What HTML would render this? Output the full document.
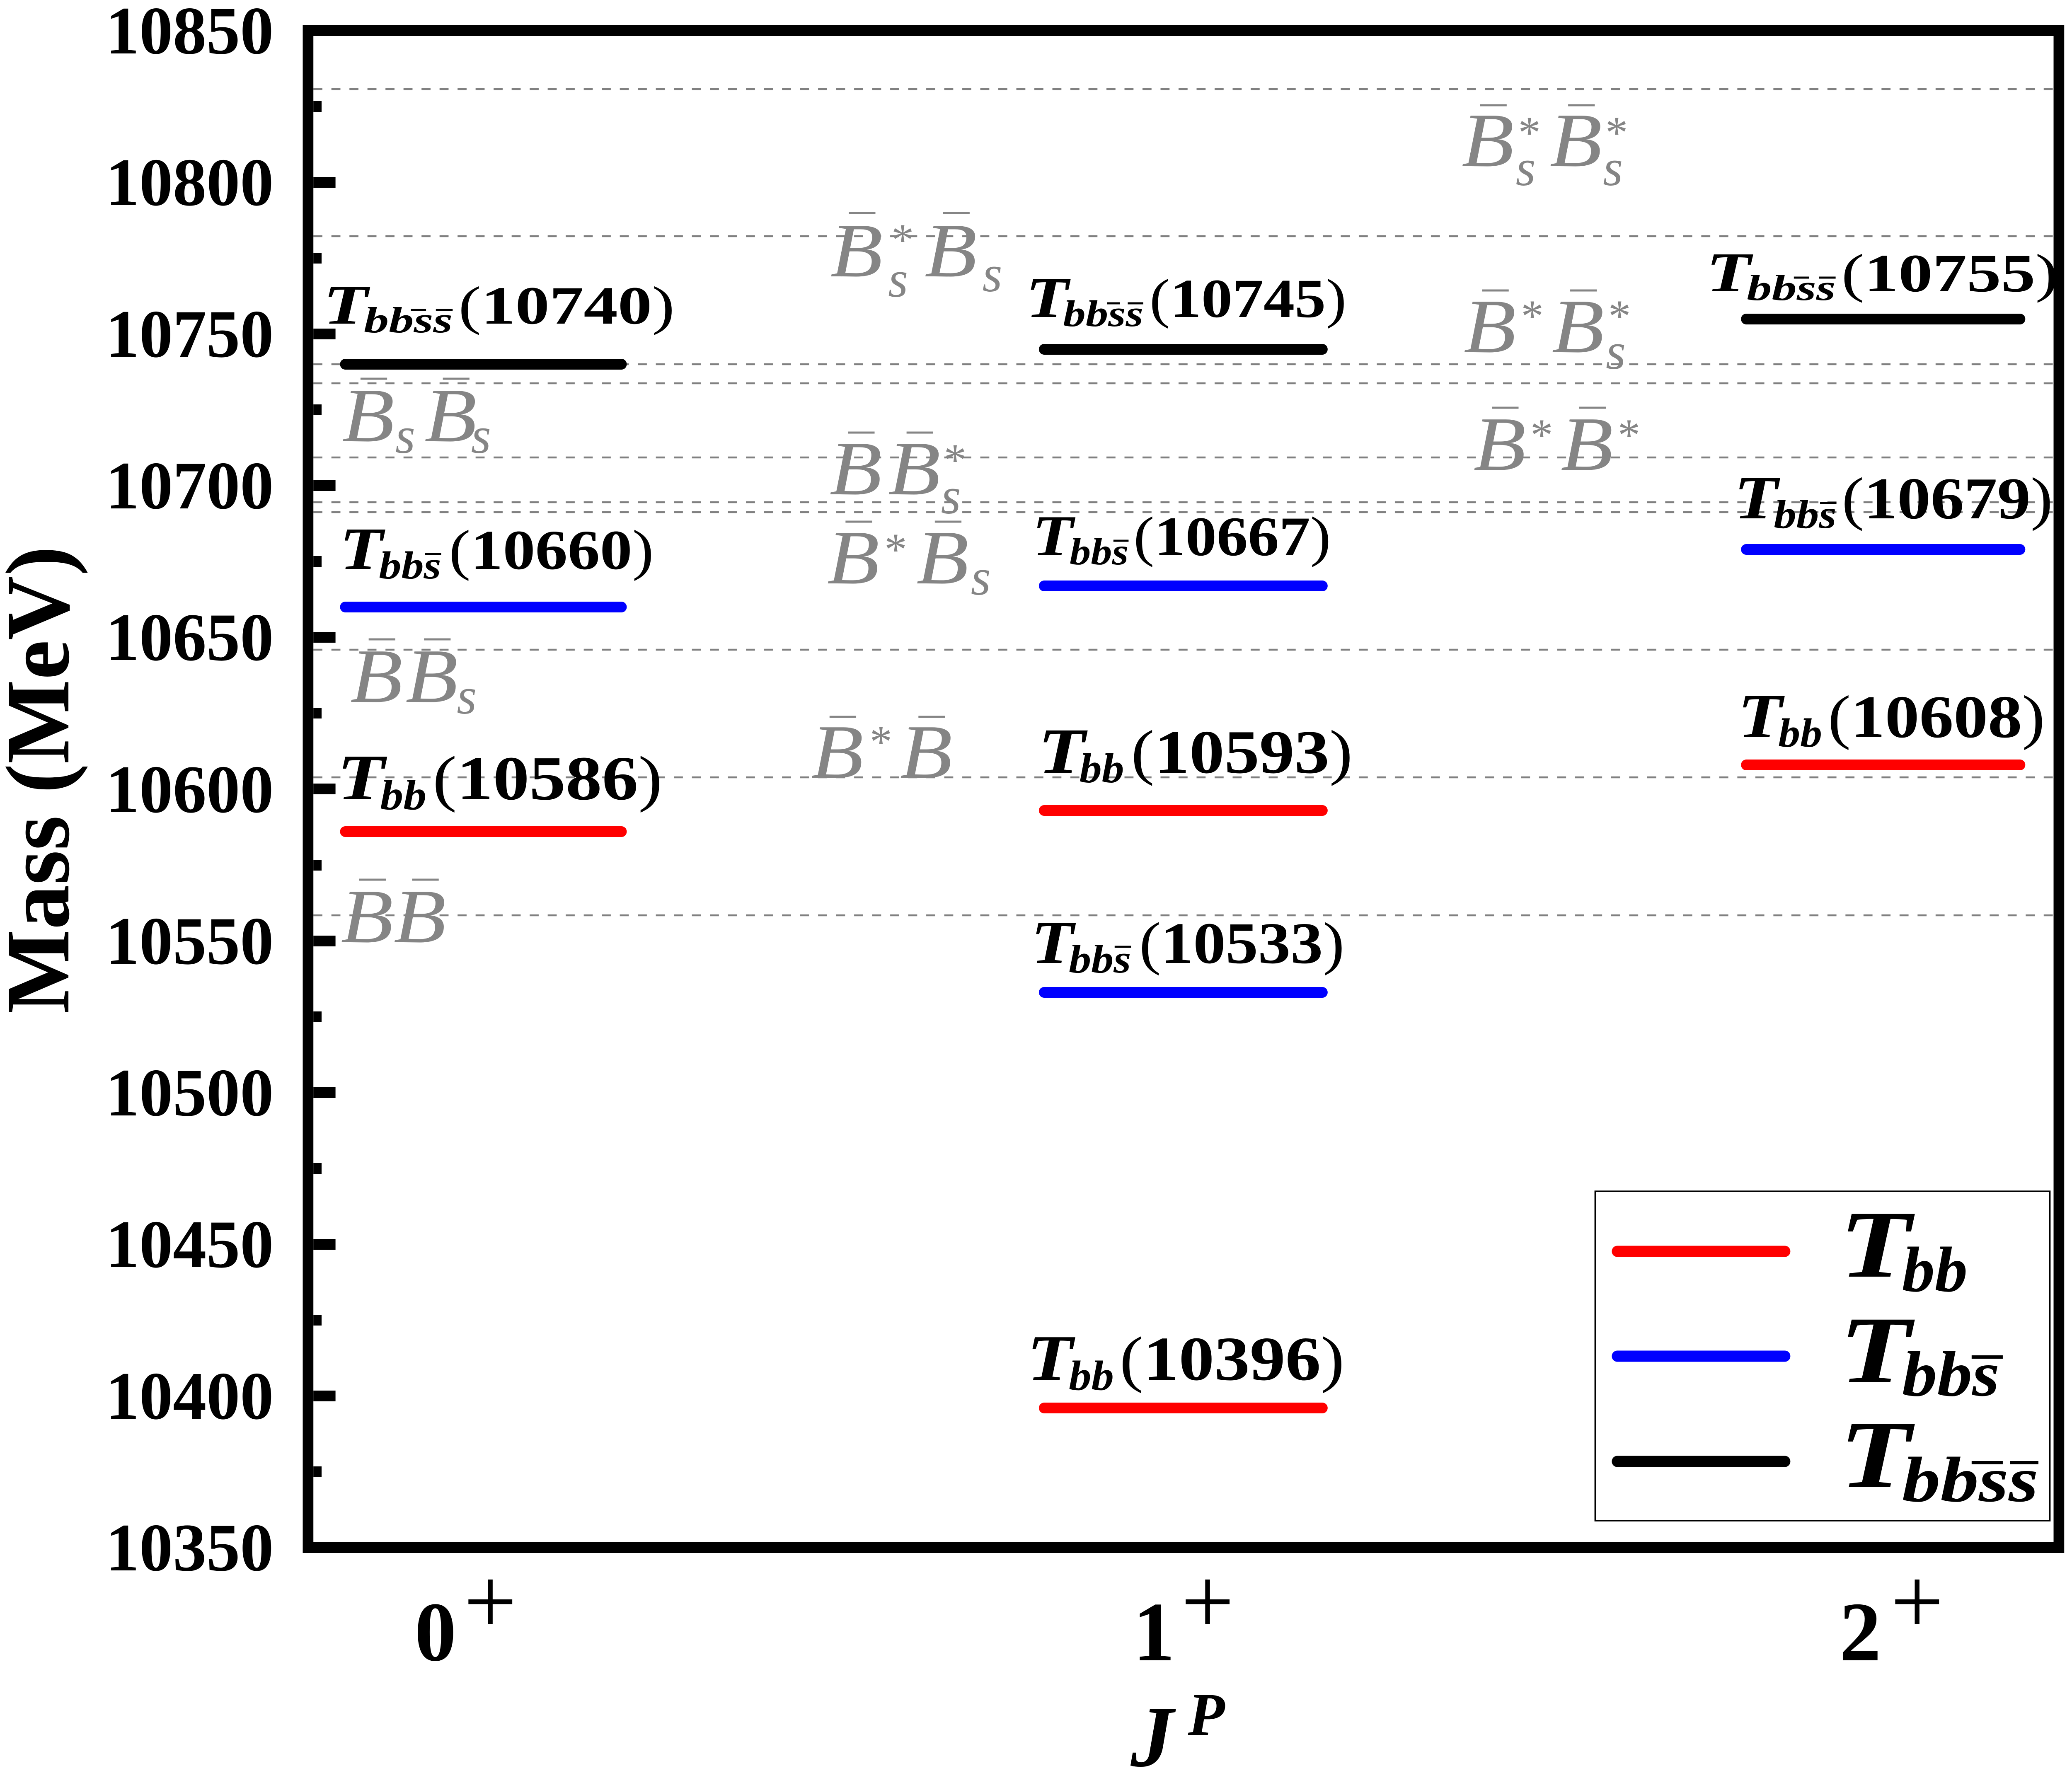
<!DOCTYPE html>
<html>
<head>
<meta charset="utf-8">
<style>
html,body{margin:0;padding:0;background:#fff;width:100%;height:100%;overflow:hidden;}
svg{display:block;width:100vw;height:100vh;}
text{font-family:"Liberation Serif","DejaVu Serif",serif;}
.bi{font-weight:bold;font-style:italic;}
.gr{fill:#858585;font-style:italic;}
.ga{fill:#858585;}
</style>
</head>
<body>
<svg viewBox="0 0 5058 4291" preserveAspectRatio="none" xmlns="http://www.w3.org/2000/svg">
<rect x="0" y="0" width="5058" height="4291" fill="#fff"/>

<!-- dashed threshold lines -->
<g stroke="#808080" stroke-width="4.5" stroke-dasharray="22 22">
<line x1="765" y1="215" x2="5013" y2="215"/>
<line x1="765" y1="570" x2="5013" y2="570"/>
<line x1="765" y1="879" x2="5013" y2="879"/>
<line x1="765" y1="925" x2="5013" y2="925"/>
<line x1="765" y1="1104" x2="5013" y2="1104"/>
<line x1="765" y1="1212" x2="5013" y2="1212"/>
<line x1="765" y1="1236" x2="5013" y2="1236"/>
<line x1="765" y1="1568" x2="5013" y2="1568"/>
<line x1="765" y1="1876" x2="5013" y2="1876"/>
<line x1="765" y1="2209" x2="5013" y2="2209"/>
</g>

<!-- gray threshold labels -->
<g font-size="186">
<text class="gr" x="835" y="1065" textLength="128" lengthAdjust="spacingAndGlyphs">B</text>
<text class="gr" x="965" y="1093" font-size="125">s</text>
<text class="gr" x="1036" y="1065" textLength="128" lengthAdjust="spacingAndGlyphs">B</text>
<text class="gr" x="1150" y="1093" font-size="125">s</text>

<text class="gr" x="855" y="1694" textLength="128" lengthAdjust="spacingAndGlyphs">B</text>
<text class="gr" x="990" y="1694" textLength="128" lengthAdjust="spacingAndGlyphs">B</text>
<text class="gr" x="1115" y="1722" font-size="125">s</text>

<text class="gr" x="832" y="2274" textLength="128" lengthAdjust="spacingAndGlyphs">B</text>
<text class="gr" x="961" y="2274" textLength="128" lengthAdjust="spacingAndGlyphs">B</text>

<text class="gr" x="2027" y="667" textLength="128" lengthAdjust="spacingAndGlyphs">B</text>
<text class="ga" x="2176" y="616" font-size="110">*</text>
<text class="gr" x="2168" y="716" font-size="125">s</text>
<text class="gr" x="2257" y="667" textLength="128" lengthAdjust="spacingAndGlyphs">B</text>
<text class="gr" x="2398" y="703" font-size="125">s</text>

<text class="gr" x="2025" y="1193" textLength="128" lengthAdjust="spacingAndGlyphs">B</text>
<text class="gr" x="2168" y="1193" textLength="128" lengthAdjust="spacingAndGlyphs">B</text>
<text class="ga" x="2304" y="1147" font-size="110">*</text>
<text class="gr" x="2297" y="1239" font-size="125">s</text>

<text class="gr" x="2019" y="1408" textLength="128" lengthAdjust="spacingAndGlyphs">B</text>
<text class="ga" x="2159" y="1363" font-size="110">*</text>
<text class="gr" x="2237" y="1408" textLength="128" lengthAdjust="spacingAndGlyphs">B</text>
<text class="gr" x="2370" y="1435" font-size="125">s</text>

<text class="gr" x="1980" y="1877" textLength="128" lengthAdjust="spacingAndGlyphs">B</text>
<text class="ga" x="2123" y="1827" font-size="110">*</text>
<text class="gr" x="2197" y="1877" textLength="128" lengthAdjust="spacingAndGlyphs">B</text>

<text class="gr" x="3568" y="401" textLength="128" lengthAdjust="spacingAndGlyphs">B</text>
<text class="ga" x="3706" y="357" font-size="110">*</text>
<text class="gr" x="3700" y="447" font-size="125">s</text>
<text class="gr" x="3783" y="401" textLength="128" lengthAdjust="spacingAndGlyphs">B</text>
<text class="ga" x="3919" y="357" font-size="110">*</text>
<text class="gr" x="3913" y="447" font-size="125">s</text>

<text class="gr" x="3573" y="850" textLength="128" lengthAdjust="spacingAndGlyphs">B</text>
<text class="ga" x="3713" y="800" font-size="110">*</text>
<text class="gr" x="3788" y="850" textLength="128" lengthAdjust="spacingAndGlyphs">B</text>
<text class="ga" x="3926" y="800" font-size="110">*</text>
<text class="gr" x="3920" y="890" font-size="125">s</text>

<text class="gr" x="3597" y="1134" textLength="128" lengthAdjust="spacingAndGlyphs">B</text>
<text class="ga" x="3736" y="1087" font-size="110">*</text>
<text class="gr" x="3810" y="1134" textLength="128" lengthAdjust="spacingAndGlyphs">B</text>
<text class="ga" x="3949" y="1087" font-size="110">*</text>
</g>
<g stroke="#858585" stroke-width="5">
<line x1="880" y1="914" x2="945" y2="914"/><line x1="1081" y1="914" x2="1146" y2="914"/>
<line x1="900" y1="1543" x2="965" y2="1543"/><line x1="1035" y1="1543" x2="1100" y2="1543"/>
<line x1="877" y1="2123" x2="942" y2="2123"/><line x1="1006" y1="2123" x2="1071" y2="2123"/>
<line x1="2072" y1="514" x2="2137" y2="514"/><line x1="2302" y1="514" x2="2367" y2="514"/>
<line x1="2070" y1="1044" x2="2135" y2="1044"/><line x1="2213" y1="1044" x2="2278" y2="1044"/>
<line x1="2064" y1="1259" x2="2129" y2="1259"/><line x1="2282" y1="1259" x2="2347" y2="1259"/>
<line x1="2025" y1="1730" x2="2090" y2="1730"/><line x1="2242" y1="1730" x2="2307" y2="1730"/>
<line x1="3613" y1="254" x2="3678" y2="254"/><line x1="3828" y1="254" x2="3893" y2="254"/>
<line x1="3618" y1="701" x2="3683" y2="701"/><line x1="3833" y1="701" x2="3898" y2="701"/>
<line x1="3642" y1="984" x2="3707" y2="984"/><line x1="3855" y1="984" x2="3920" y2="984"/>
</g>

<!-- energy level bars -->
<g stroke-width="26" stroke-linecap="round">
<line x1="843" y1="879" x2="1517" y2="879" stroke="#000"/>
<line x1="843" y1="1465" x2="1517" y2="1465" stroke="#0000ff"/>
<line x1="843" y1="2007" x2="1517" y2="2007" stroke="#ff0000"/>
<line x1="2549" y1="843" x2="3228" y2="843" stroke="#000"/>
<line x1="2549" y1="1414" x2="3228" y2="1414" stroke="#0000ff"/>
<line x1="2549" y1="1956" x2="3228" y2="1956" stroke="#ff0000"/>
<line x1="2549" y1="2395" x2="3228" y2="2395" stroke="#0000ff"/>
<line x1="2549" y1="3398" x2="3228" y2="3398" stroke="#ff0000"/>
<line x1="4263" y1="770" x2="4931" y2="770" stroke="#000"/>
<line x1="4263" y1="1326" x2="4931" y2="1326" stroke="#0000ff"/>
<line x1="4263" y1="1846" x2="4931" y2="1846" stroke="#ff0000"/>
</g>

<!-- black state labels -->
<g fill="#000">
<text class="bi" x="789" y="781" font-size="136" textLength="109" lengthAdjust="spacingAndGlyphs">T</text>
<text class="bi" x="888" y="802" font-size="88" textLength="217" lengthAdjust="spacingAndGlyphs">bbss</text>
<text x="1119" y="781" font-size="130" textLength="528" lengthAdjust="spacingAndGlyphs">(<tspan font-weight="bold">10740</tspan>)</text>

<text class="bi" x="829" y="1373" font-size="145" textLength="106" lengthAdjust="spacingAndGlyphs">T</text>
<text class="bi" x="925" y="1396" font-size="94" textLength="152" lengthAdjust="spacingAndGlyphs">bbs</text>
<text x="1096" y="1373" font-size="136" textLength="500" lengthAdjust="spacingAndGlyphs">(<tspan font-weight="bold">10660</tspan>)</text>

<text class="bi" x="823" y="1929" font-size="157" textLength="116" lengthAdjust="spacingAndGlyphs">T</text>
<text class="bi" x="928" y="1953" font-size="102" textLength="113" lengthAdjust="spacingAndGlyphs">bb</text>
<text x="1056" y="1929" font-size="151" textLength="561" lengthAdjust="spacingAndGlyphs">(<tspan font-weight="bold">10586</tspan>)</text>

<text class="bi" x="2504" y="765" font-size="139" textLength="104" lengthAdjust="spacingAndGlyphs">T</text>
<text class="bi" x="2595" y="787" font-size="90" textLength="196" lengthAdjust="spacingAndGlyphs">bbss</text>
<text x="2806" y="765" font-size="133" textLength="481" lengthAdjust="spacingAndGlyphs">(<tspan font-weight="bold">10745</tspan>)</text>

<text class="bi" x="2520" y="1340" font-size="140" textLength="100" lengthAdjust="spacingAndGlyphs">T</text>
<text class="bi" x="2611" y="1362" font-size="91" textLength="144" lengthAdjust="spacingAndGlyphs">bbs</text>
<text x="2767" y="1340" font-size="135" textLength="482" lengthAdjust="spacingAndGlyphs">(<tspan font-weight="bold">10667</tspan>)</text>

<text class="bi" x="2534" y="1865" font-size="156" textLength="115" lengthAdjust="spacingAndGlyphs">T</text>
<text class="bi" x="2635" y="1888" font-size="101" textLength="109" lengthAdjust="spacingAndGlyphs">bb</text>
<text x="2761" y="1865" font-size="149" textLength="541" lengthAdjust="spacingAndGlyphs">(<tspan font-weight="bold">10593</tspan>)</text>

<text class="bi" x="2517" y="2324" font-size="148" textLength="104" lengthAdjust="spacingAndGlyphs">T</text>
<text class="bi" x="2609" y="2347" font-size="96" textLength="152" lengthAdjust="spacingAndGlyphs">bbs</text>
<text x="2781" y="2324" font-size="142" textLength="501" lengthAdjust="spacingAndGlyphs">(<tspan font-weight="bold">10533</tspan>)</text>

<text class="bi" x="2507" y="3330" font-size="157" textLength="112" lengthAdjust="spacingAndGlyphs">T</text>
<text class="bi" x="2609" y="3354" font-size="102" textLength="110" lengthAdjust="spacingAndGlyphs">bb</text>
<text x="2733" y="3330" font-size="151" textLength="549" lengthAdjust="spacingAndGlyphs">(<tspan font-weight="bold">10396</tspan>)</text>

<text class="bi" x="4165" y="703" font-size="136" textLength="109" lengthAdjust="spacingAndGlyphs">T</text>
<text class="bi" x="4264" y="724" font-size="88" textLength="217" lengthAdjust="spacingAndGlyphs">bbss</text>
<text x="4495" y="703" font-size="130" textLength="529" lengthAdjust="spacingAndGlyphs">(<tspan font-weight="bold">10755</tspan>)</text>

<text class="bi" x="4233" y="1251" font-size="149" textLength="107" lengthAdjust="spacingAndGlyphs">T</text>
<text class="bi" x="4330" y="1274" font-size="97" textLength="153" lengthAdjust="spacingAndGlyphs">bbs</text>
<text x="4496" y="1251" font-size="143" textLength="515" lengthAdjust="spacingAndGlyphs">(<tspan font-weight="bold">10679</tspan>)</text>

<text class="bi" x="4242" y="1779" font-size="152" textLength="109" lengthAdjust="spacingAndGlyphs">T</text>
<text class="bi" x="4341" y="1802" font-size="99" textLength="107" lengthAdjust="spacingAndGlyphs">bb</text>
<text x="4462" y="1779" font-size="146" textLength="530" lengthAdjust="spacingAndGlyphs">(<tspan font-weight="bold">10608</tspan>)</text>
</g>
<g stroke="#000" stroke-width="5">
<line x1="1003" y1="748" x2="1040" y2="748"/><line x1="1064" y1="748" x2="1105" y2="748"/>
<line x1="1037" y1="1337" x2="1077" y2="1337"/>
<line x1="2702" y1="732" x2="2734" y2="732"/><line x1="2753" y1="732" x2="2791" y2="732"/>
<line x1="2718" y1="1305" x2="2755" y2="1305"/>
<line x1="2721" y1="2285" x2="2761" y2="2285"/>
<line x1="4379" y1="670" x2="4416" y2="670"/><line x1="4440" y1="670" x2="4481" y2="670"/>
<line x1="4443" y1="1214" x2="4483" y2="1214"/>
</g>

<!-- ticks -->
<g fill="#000">
<rect x="765" y="427" width="54" height="26"/>
<rect x="765" y="793" width="54" height="26"/>
<rect x="765" y="1159" width="54" height="26"/>
<rect x="765" y="1525" width="54" height="26"/>
<rect x="765" y="1891" width="54" height="26"/>
<rect x="765" y="2258" width="54" height="26"/>
<rect x="765" y="2624" width="54" height="26"/>
<rect x="765" y="2990" width="54" height="26"/>
<rect x="765" y="3356" width="54" height="26"/>
<rect x="765" y="244" width="20" height="26"/>
<rect x="765" y="610" width="20" height="26"/>
<rect x="765" y="976" width="20" height="26"/>
<rect x="765" y="1342" width="20" height="26"/>
<rect x="765" y="1708" width="20" height="26"/>
<rect x="765" y="2075" width="20" height="26"/>
<rect x="765" y="2441" width="20" height="26"/>
<rect x="765" y="2807" width="20" height="26"/>
<rect x="765" y="3173" width="20" height="26"/>
<rect x="765" y="3539" width="20" height="26"/>
</g>

<!-- frame -->
<rect x="752" y="74" width="4274" height="3661" fill="none" stroke="#000" stroke-width="26"/>

<!-- y tick labels -->
<g font-size="164" font-weight="bold" text-anchor="end" fill="#000">
<text x="668" y="129">10850</text>
<text x="668" y="495">10800</text>
<text x="668" y="861">10750</text>
<text x="668" y="1227">10700</text>
<text x="668" y="1593">10650</text>
<text x="668" y="1960">10600</text>
<text x="668" y="2326">10550</text>
<text x="668" y="2692">10500</text>
<text x="668" y="3058">10450</text>
<text x="668" y="3424">10400</text>
<text x="668" y="3790">10350</text>
</g>

<!-- y axis title -->
<text transform="translate(167,1882) rotate(-90)" x="0" y="0" font-size="222" font-weight="bold" text-anchor="middle" textLength="1128" lengthAdjust="spacingAndGlyphs">Mass (MeV)</text>

<!-- x tick labels -->
<g fill="#000">
<text x="1012" y="4007" font-size="204" font-weight="bold">0</text>
<text x="1132" y="3942" font-size="230">+</text>
<text x="2766" y="4007" font-size="204" font-weight="bold">1</text>
<text x="2883" y="3942" font-size="230">+</text>
<text x="4490" y="4007" font-size="204" font-weight="bold">2</text>
<text x="4615" y="3942" font-size="230">+</text>
</g>

<!-- x axis title -->
<text class="bi" x="2760" y="4262" font-size="210">J</text>
<text class="bi" x="2900" y="4187" font-size="147">P</text>

<!-- legend -->
<rect x="3894" y="2875" width="1110" height="795" fill="#fff" stroke="#000" stroke-width="3.5"/>
<g stroke-width="27" stroke-linecap="round">
<line x1="3948" y1="3020" x2="4357" y2="3020" stroke="#ff0000"/>
<line x1="3948" y1="3273" x2="4357" y2="3273" stroke="#0000ff"/>
<line x1="3948" y1="3527" x2="4357" y2="3527" stroke="#000"/>
</g>
<g fill="#000">
<text class="bi" x="4490" y="3081" font-size="231" textLength="175" lengthAdjust="spacingAndGlyphs">T</text>
<text class="bi" x="4643" y="3116" font-size="155" textLength="160" lengthAdjust="spacingAndGlyphs">bb</text>
<text class="bi" x="4490" y="3336" font-size="231" textLength="175" lengthAdjust="spacingAndGlyphs">T</text>
<text class="bi" x="4643" y="3368" font-size="155" textLength="238" lengthAdjust="spacingAndGlyphs">bbs</text>
<text class="bi" x="4490" y="3588" font-size="231" textLength="175" lengthAdjust="spacingAndGlyphs">T</text>
<text class="bi" x="4643" y="3623" font-size="155" textLength="333" lengthAdjust="spacingAndGlyphs">bbss</text>
</g>
<g stroke="#000" stroke-width="8">
<line x1="4813" y1="3275" x2="4889" y2="3275"/>
<line x1="4813" y1="3530" x2="4889" y2="3530"/>
<line x1="4907" y1="3530" x2="4976" y2="3530"/>
</g>
</svg>
</body>
</html>
